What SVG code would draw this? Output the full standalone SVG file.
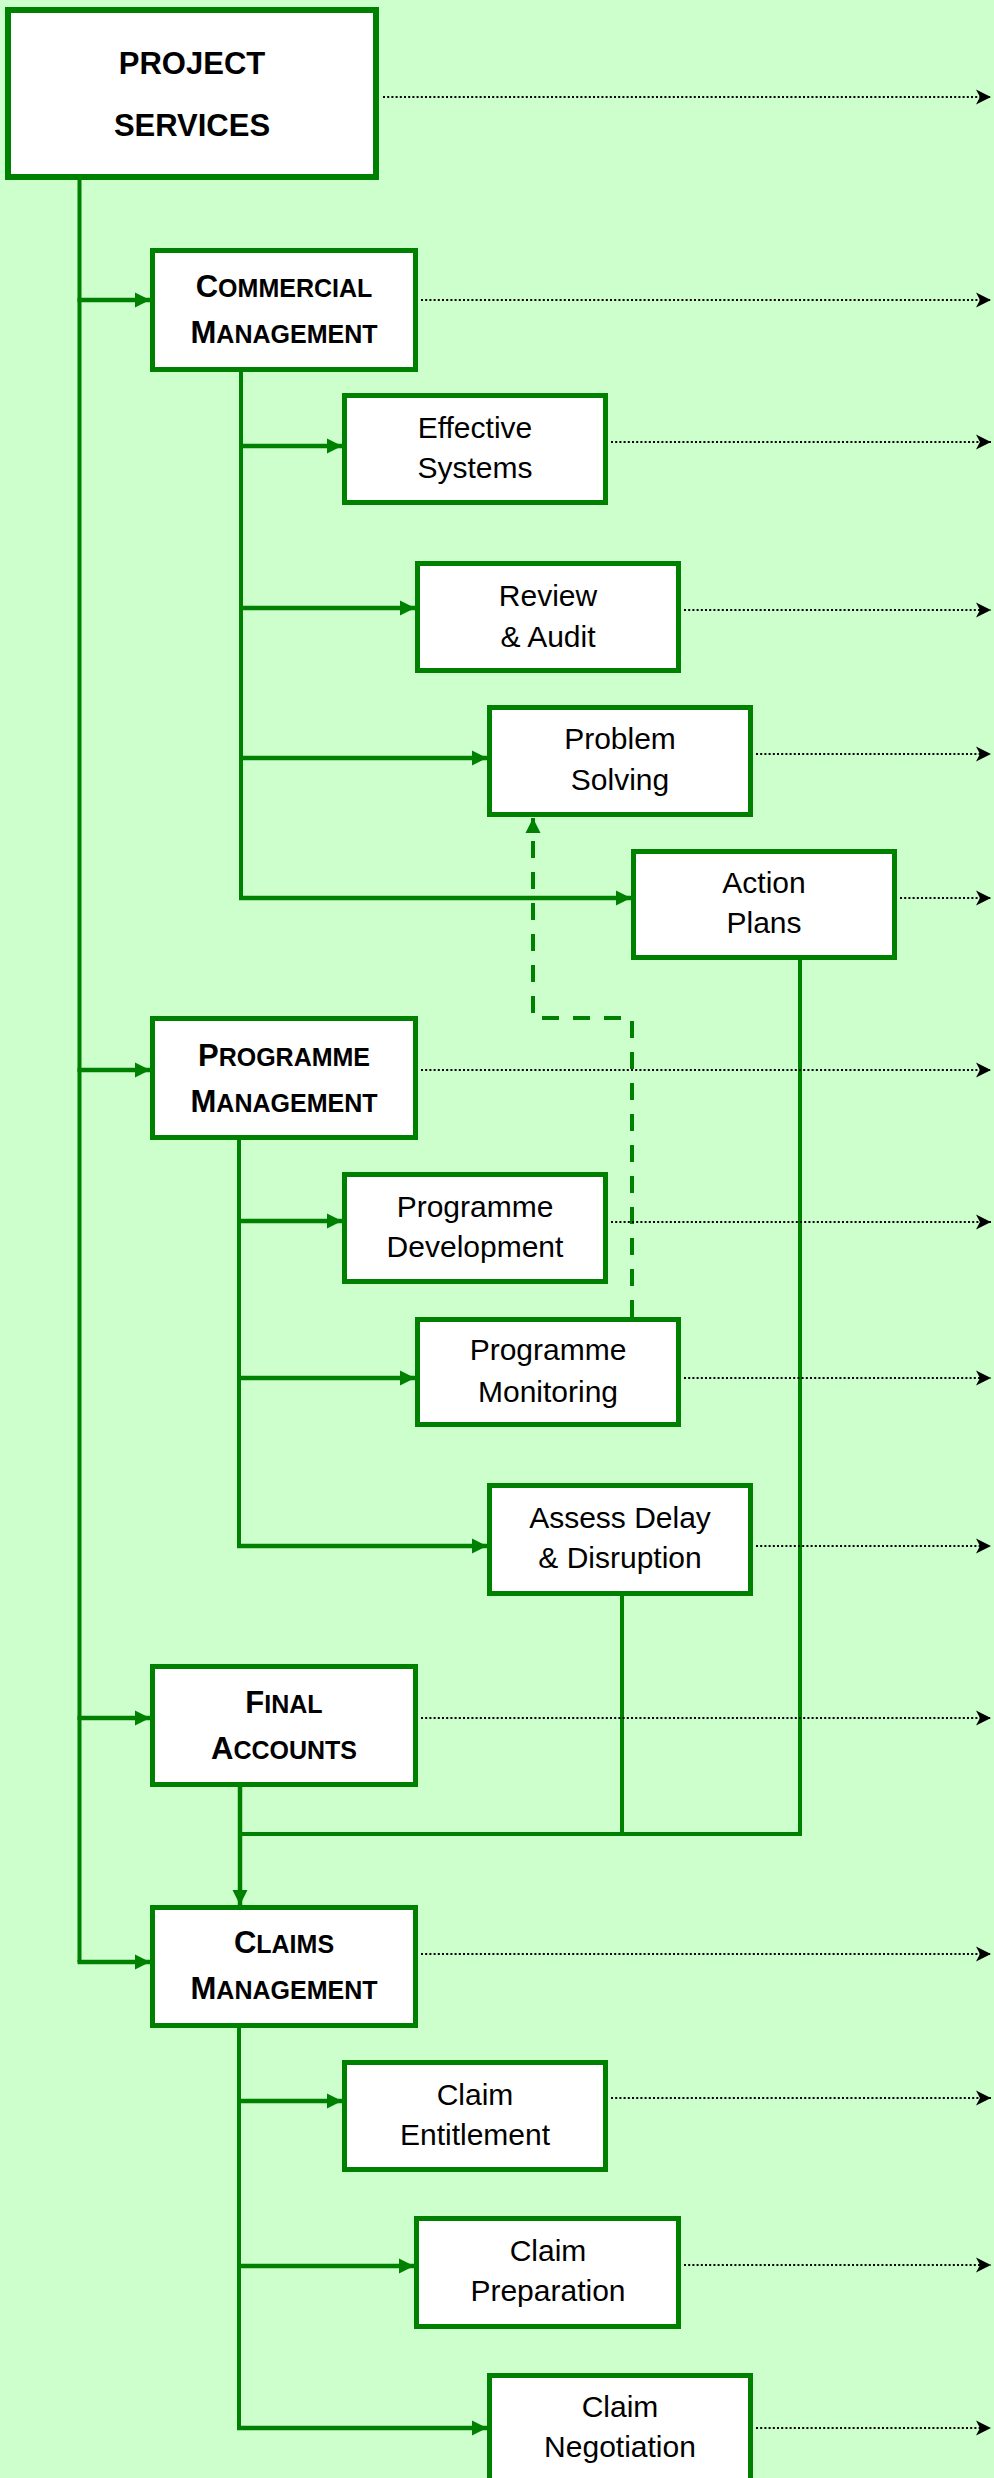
<svg xmlns="http://www.w3.org/2000/svg" width="994" height="2478" viewBox="0 0 994 2478">
<style>
.box{fill:#fff;stroke:#008000;stroke-width:5}
.bx6{fill:#fff;stroke:#008000;stroke-width:6}
.t{font-family:"Liberation Sans",Arial,sans-serif;font-size:30px;fill:#000;text-anchor:middle}
.h{font-family:"Liberation Sans",Arial,sans-serif;font-weight:bold;font-size:31px;fill:#000;text-anchor:middle}
.sc{font-size:25px}
.ln{fill:none;stroke:#008000;stroke-width:4}
.ar{fill:none;stroke:#008000;stroke-width:4.5;marker-end:url(#ga)}
.ds{fill:none;stroke:#008000;stroke-width:4;stroke-dasharray:17 14;marker-end:url(#ga)}
.dt{fill:none;stroke:#000;stroke-width:2;stroke-dasharray:2 2.2;marker-end:url(#ba)}
</style>
<defs>
<marker id="ga" markerUnits="userSpaceOnUse" markerWidth="15" markerHeight="16" refX="15" refY="8" orient="auto">
<path d="M0 0.5 L15 8 L0 15.5 Z" fill="#008000"/>
</marker>
<marker id="ba" markerUnits="userSpaceOnUse" markerWidth="15" markerHeight="16" refX="15" refY="8" orient="auto">
<path d="M0 0.5 L15 8 L0 15.5 L4 8 Z" fill="#000"/>
</marker>
</defs>
<rect width="994" height="2478" fill="#CCFFCC"/>

<g id="connectors">
<!-- main trunk -->
<path class="ln" d="M79.5 180 V1962"/>
<path class="ar" d="M77.5 300 H150"/>
<path class="ar" d="M77.5 1070 H150"/>
<path class="ar" d="M77.5 1718 H150"/>
<path class="ar" d="M77.5 1962 H150"/>
<!-- commercial -->
<path class="ln" d="M241 372 V898"/>
<path class="ar" d="M239 446 H342"/>
<path class="ar" d="M239 608 H415"/>
<path class="ar" d="M239 758 H487"/>
<path class="ar" d="M239 898 H631"/>
<!-- programme -->
<path class="ln" d="M239 1140 V1546"/>
<path class="ar" d="M237 1221 H342"/>
<path class="ar" d="M237 1378 H415"/>
<path class="ar" d="M237 1546 H487"/>
<!-- merge -->
<path class="ln" d="M622 1596 V1834"/>
<path class="ln" d="M800 959 V1836"/>
<path class="ln" d="M240 1834 H802"/>
<path class="ar" d="M240 1787 V1905"/>
<!-- claims -->
<path class="ln" d="M239 2028 V2428"/>
<path class="ar" d="M237 2101 H342"/>
<path class="ar" d="M237 2266 H414"/>
<path class="ar" d="M237 2428 H487"/>
<!-- dashed feedback -->
<path class="ds" d="M632 1317 V1018 H533 V818"/>
<!-- dotted outputs -->
<path class="dt" d="M383 97 H991"/>
<path class="dt" d="M421 300 H991"/>
<path class="dt" d="M611 442 H991"/>
<path class="dt" d="M684 610 H991"/>
<path class="dt" d="M756 754 H991"/>
<path class="dt" d="M900 898 H991"/>
<path class="dt" d="M421 1070 H991"/>
<path class="dt" d="M611 1222 H991"/>
<path class="dt" d="M684 1378 H991"/>
<path class="dt" d="M756 1546 H991"/>
<path class="dt" d="M421 1718 H991"/>
<path class="dt" d="M421 1954 H991"/>
<path class="dt" d="M611 2098 H991"/>
<path class="dt" d="M684 2265 H991"/>
<path class="dt" d="M756 2428 H991"/>
</g>

<g id="project-services">
<rect class="bx6" x="8" y="10" width="368" height="167"/>
<text class="h" x="192" y="74" font-size="29">PROJECT</text>
<text class="h" x="192" y="136" font-size="29">SERVICES</text>
</g>

<g id="commercial-management">
<rect class="box" x="152.5" y="250.5" width="263" height="119"/>
<text class="h" x="284" y="297">C<tspan class="sc">OMMERCIAL</tspan></text>
<text class="h" x="284" y="343">M<tspan class="sc">ANAGEMENT</tspan></text>
</g>

<g id="effective-systems">
<rect class="box" x="344.5" y="395.5" width="261" height="107"/>
<text class="t" x="475" y="438">Effective</text>
<text class="t" x="475" y="478">Systems</text>
</g>

<g id="review-audit">
<rect class="box" x="417.5" y="563.5" width="261" height="107"/>
<text class="t" x="548" y="606">Review</text>
<text class="t" x="548" y="647">&amp; Audit</text>
</g>

<g id="problem-solving">
<rect class="box" x="489.5" y="707.5" width="261" height="107"/>
<text class="t" x="620" y="749">Problem</text>
<text class="t" x="620" y="790">Solving</text>
</g>

<g id="action-plans">
<rect class="box" x="633.5" y="851.5" width="261" height="106"/>
<text class="t" x="764" y="893">Action</text>
<text class="t" x="764" y="933">Plans</text>
</g>

<g id="programme-management">
<rect class="box" x="152.5" y="1018.5" width="263" height="119"/>
<text class="h" x="284" y="1066">P<tspan class="sc">ROGRAMME</tspan></text>
<text class="h" x="284" y="1112">M<tspan class="sc">ANAGEMENT</tspan></text>
</g>

<g id="programme-development">
<rect class="box" x="344.5" y="1174.5" width="261" height="107"/>
<text class="t" x="475" y="1217">Programme</text>
<text class="t" x="475" y="1257">Development</text>
</g>

<g id="programme-monitoring">
<rect class="box" x="417.5" y="1319.5" width="261" height="105"/>
<text class="t" x="548" y="1360">Programme</text>
<text class="t" x="548" y="1402">Monitoring</text>
</g>

<g id="assess-delay">
<rect class="box" x="489.5" y="1485.5" width="261" height="108"/>
<text class="t" x="620" y="1528">Assess Delay</text>
<text class="t" x="620" y="1568">&amp; Disruption</text>
</g>

<g id="final-accounts">
<rect class="box" x="152.5" y="1666.5" width="263" height="118"/>
<text class="h" x="284" y="1713">F<tspan class="sc">INAL</tspan></text>
<text class="h" x="284" y="1759">A<tspan class="sc">CCOUNTS</tspan></text>
</g>

<g id="claims-management">
<rect class="box" x="152.5" y="1907.5" width="263" height="118"/>
<text class="h" x="284" y="1953">C<tspan class="sc">LAIMS</tspan></text>
<text class="h" x="284" y="1999">M<tspan class="sc">ANAGEMENT</tspan></text>
</g>

<g id="claim-entitlement">
<rect class="box" x="344.5" y="2062.5" width="261" height="107"/>
<text class="t" x="475" y="2105">Claim</text>
<text class="t" x="475" y="2145">Entitlement</text>
</g>

<g id="claim-preparation">
<rect class="box" x="416.5" y="2218.5" width="262" height="108"/>
<text class="t" x="548" y="2261">Claim</text>
<text class="t" x="548" y="2301">Preparation</text>
</g>

<g id="claim-negotiation">
<rect class="box" x="489.5" y="2375.5" width="261" height="108"/>
<text class="t" x="620" y="2417">Claim</text>
<text class="t" x="620" y="2457">Negotiation</text>
</g>
</svg>
